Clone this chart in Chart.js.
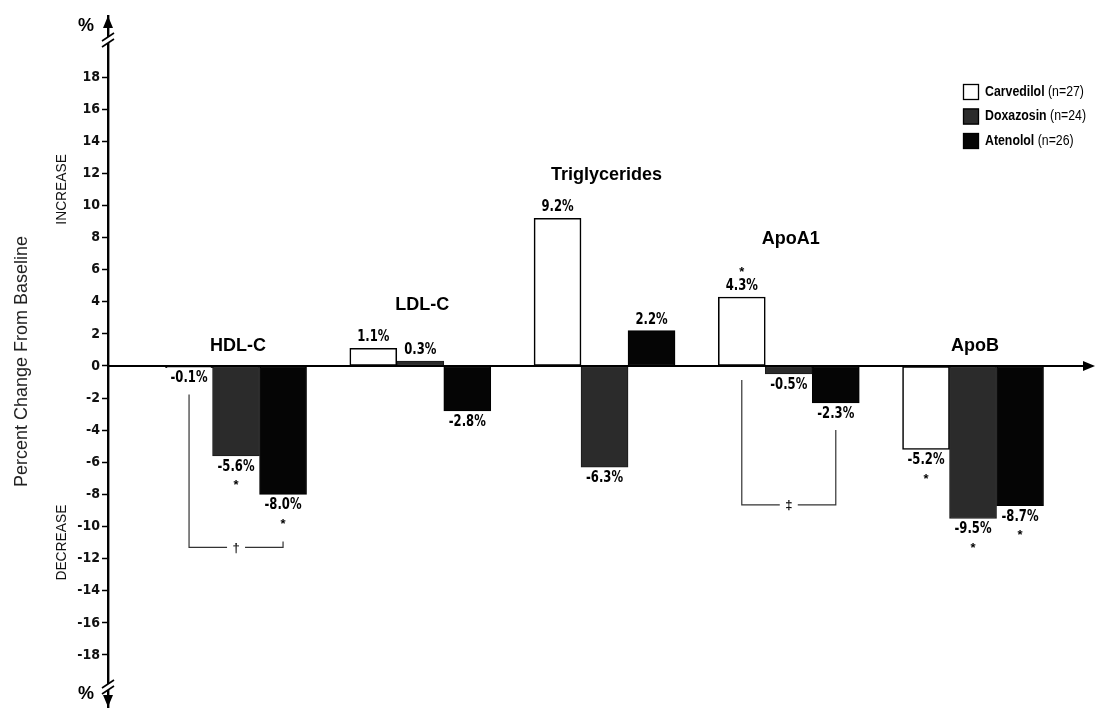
<!DOCTYPE html>
<html>
<head>
<meta charset="utf-8">
<script src="https://cdn.jsdelivr.net/npm/chart.js@4/dist/chart.umd.min.js"></script>
<style>
  html, body { margin: 0; padding: 0; background: #fff; }
  #wrap { position: relative; width: 1099px; height: 712px; }
</style>
</head>
<body>
<div id="wrap"><canvas id="c" width="1099" height="712"></canvas></div>
<script>
// Lipid parameters and percent change from baseline per treatment
const lipids = ['HDL-C', 'LDL-C', 'Triglycerides', 'ApoA1', 'ApoB'];
const carvedilol = [-0.1, 1.1, 9.2, 4.3, -5.2];
const doxazosin  = [-5.6, 0.3, -6.3, -0.5, -9.5];
const atenolol   = [-8.0, -2.8, 2.2, -2.3, -8.7];

// significance versus baseline (asterisk)
const carvedilolSig = [false, false, false, true, true];
const doxazosinSig  = [true, false, false, false, true];
const atenololSig   = [true, false, false, false, true];

const treatments  = ['Carvedilol', 'Doxazosin', 'Atenolol'];
const sampleSizes = [27, 24, 26];

const yTicks = [18, 16, 14, 12, 10, 8, 6, 4, 2, 0, -2, -4, -6, -8, -10, -12, -14, -16, -18];

// between-group comparisons: lipid index, first and last bar, bracket level (%)
const comparisons = [
  { lipid: 0, from: 0, to: 2, level: -11.3, symbol: '\u2020' },
  { lipid: 3, from: 0, to: 2, level: -8.65, symbol: '\u2021' }
];

const SANS = '"Liberation Sans", Arial, Helvetica, sans-serif';
const NARROW = '"Liberation Sans Narrow", "DejaVu Sans Condensed", "Liberation Sans", sans-serif';

const fills   = ['#ffffff', '#2b2b2b', '#050505'];
const borders = ['#000000', '#1a1a1a', '#000000'];
const series  = [carvedilol, doxazosin, atenolol];
const sigs    = [carvedilolSig, doxazosinSig, atenololSig];

const datasets = series.map((vals, k) => ({
  label: treatments[k],
  data: vals.map((v, i) => ({ x: i, y: v })),
  backgroundColor: fills[k],
  borderColor: borders[k],
  borderWidth: k === 0 ? 1.6 : 1,
  borderSkipped: false,
  barThickness: 47
}));

function arrow(ctx, x, y, dir) {
  ctx.beginPath();
  if (dir === 'right') { ctx.moveTo(x, y); ctx.lineTo(x - 12, y - 5); ctx.lineTo(x - 12, y + 5); }
  if (dir === 'up')    { ctx.moveTo(x, y); ctx.lineTo(x - 5, y + 12); ctx.lineTo(x + 5, y + 12); }
  if (dir === 'down')  { ctx.moveTo(x, y); ctx.lineTo(x - 5, y - 12); ctx.lineTo(x + 5, y - 12); }
  ctx.closePath();
  ctx.fill();
}

function axisBreak(ctx, x, y) {
  ctx.fillStyle = '#fff';
  ctx.fillRect(x - 3, y - 3, 6, 6);
  ctx.strokeStyle = '#000';
  ctx.lineWidth = 1.6;
  [-3, 3].forEach(d => {
    ctx.beginPath();
    ctx.moveTo(x - 6, y + d + 4);
    ctx.lineTo(x + 6, y + d - 4);
    ctx.stroke();
  });
}

// condensed text: horizontally squeezed around its anchor
function squeezed(ctx, text, x, y, sx) {
  ctx.save();
  ctx.translate(x, y);
  ctx.scale(sx, 1);
  ctx.fillText(text, 0, 0);
  ctx.restore();
}

const annotate = {
  id: 'annotate',
  afterDatasetsDraw(chart) {
    const { ctx, chartArea: a, scales: { y } } = chart;
    const y0 = y.getPixelForValue(0);
    const ax = a.left;
    ctx.save();

    // horizontal zero axis with arrowhead
    ctx.strokeStyle = '#000';
    ctx.fillStyle = '#000';
    ctx.lineWidth = 2;
    ctx.beginPath(); ctx.moveTo(ax, y0); ctx.lineTo(a.right - 6, y0); ctx.stroke();
    arrow(ctx, a.right, y0, 'right');

    // vertical axis arrows and breaks
    ctx.fillStyle = '#000';
    arrow(ctx, ax, a.top, 'up');
    arrow(ctx, ax, a.bottom, 'down');
    axisBreak(ctx, ax, a.top + 24);
    axisBreak(ctx, ax, a.bottom - 20);

    ctx.fillStyle = '#000';
    ctx.font = 'bold 18px ' + SANS;
    ctx.textAlign = 'center';
    ctx.textBaseline = 'middle';
    ctx.fillText('%', ax - 22, a.top + 10);
    ctx.fillText('%', ax - 22, a.bottom - 13);

    // INCREASE / DECREASE
    ctx.font = '15px ' + SANS;
    [['INCREASE', 11], ['DECREASE', -11]].forEach(([t, v]) => {
      ctx.save();
      ctx.translate(ax - 46, y.getPixelForValue(v));
      ctx.rotate(-Math.PI / 2);
      ctx.fillStyle = '#111';
      ctx.scale(0.92, 1);
      ctx.fillText(t, 0, 0);
      ctx.restore();
    });

    // value labels and asterisks
    const annBottom = {};
    const groupTop = lipids.map(() => ({ px: y0, hasPos: false, star: false }));
    series.forEach((vals, k) => {
      const meta = chart.getDatasetMeta(k);
      vals.forEach((v, i) => {
        const el = meta.data[i];
        const cx = el.x;
        const label = v.toFixed(1) + '%';
        ctx.fillStyle = '#000';
        ctx.textAlign = 'center';
        ctx.textBaseline = 'middle';
        let ly, sy;
        if (v >= 0) {
          ly = el.y - 11;
          sy = ly - 17;
          annBottom[k + '_' + i] = y0 + 14;
          const g = groupTop[i];
          if (el.y <= g.px) { g.px = el.y; }
          g.hasPos = true;
          g.star = g.star || sigs[k][i];
        } else {
          ly = el.y + 11;
          sy = ly + 16;
          annBottom[k + '_' + i] = (sigs[k][i] ? sy + 4 : ly) + 16;
        }
        ctx.font = 'bold 15px ' + NARROW;
        squeezed(ctx, label, cx, ly, 0.86);
        if (sigs[k][i]) {
          ctx.font = 'bold 13px ' + SANS;
          ctx.fillText('*', cx, sy + 3);
        }
      });
    });

    // lipid names above each group
    ctx.font = 'bold 18px ' + SANS;
    ctx.fillStyle = '#000';
    lipids.forEach((name, i) => {
      const g = groupTop[i];
      const cx = chart.getDatasetMeta(1).data[i].x;
      const gap = g.hasPos ? 43 + (g.star ? 15 : 0) : 20;
      ctx.fillText(name, cx + 2, g.px - gap);
    });

    // comparison brackets
    ctx.strokeStyle = '#333';
    ctx.lineWidth = 1.2;
    comparisons.forEach(c => {
      const x1 = chart.getDatasetMeta(c.from).data[c.lipid].x;
      const x2 = chart.getDatasetMeta(c.to).data[c.lipid].x;
      const ly = y.getPixelForValue(c.level);
      const t1 = annBottom[c.from + '_' + c.lipid];
      const t2 = annBottom[c.to + '_' + c.lipid];
      const mid = (x1 + x2) / 2;
      ctx.beginPath();
      ctx.moveTo(x1, t1); ctx.lineTo(x1, ly); ctx.lineTo(mid - 9, ly);
      ctx.moveTo(mid + 9, ly); ctx.lineTo(x2, ly); ctx.lineTo(x2, Math.min(t2, ly - 5));
      ctx.stroke();
      ctx.fillStyle = '#111';
      ctx.font = 'bold 13px ' + SANS;
      ctx.fillText(c.symbol, mid, ly + 1);
    });

    // legend
    const lx = 963, ly0 = 92, step = 24.5, sx = 0.88;
    treatments.forEach((t, k) => {
      const yy = ly0 + k * step;
      ctx.fillStyle = fills[k];
      ctx.fillRect(lx, yy - 8, 16, 16);
      ctx.strokeStyle = '#000';
      ctx.lineWidth = 1.3;
      ctx.strokeRect(lx + 0.5, yy - 7.5, 15, 15);
      ctx.fillStyle = '#000';
      ctx.textAlign = 'left';
      ctx.font = 'bold 14px ' + SANS;
      squeezed(ctx, t, lx + 22, yy, sx);
      const w = ctx.measureText(t).width * sx;
      ctx.font = '14px ' + SANS;
      squeezed(ctx, ' (n=' + sampleSizes[k] + ')', lx + 22 + w, yy, sx);
    });

    ctx.restore();
  }
};

new Chart(document.getElementById('c'), {
  type: 'bar',
  data: { datasets },
  options: {
    responsive: false,
    animation: false,
    devicePixelRatio: 1,
    layout: { padding: { top: 16, right: 4, bottom: 5, left: 0 } },
    plugins: { legend: { display: false }, tooltip: { enabled: false } },
    scales: {
      x: {
        type: 'linear',
        display: false,
        offset: false,
        bounds: 'data',
        grace: 0,
        min: -0.695,
        max: 4.662,
        grid: { offset: false },
        afterBuildTicks: s => { s.ticks = lipids.map((_, i) => ({ value: i })); }
      },
      y: {
        min: -21.24,
        max: 21.8,
        afterBuildTicks: s => { s.ticks = yTicks.map(v => ({ value: v })); },
        afterFit: s => { s.width = 108; s.paddingTop = 0; s.paddingBottom = 0; },
        border: { display: true, color: '#000', width: 2.4 },
        grid: { drawOnChartArea: false, drawTicks: true, tickLength: 6, tickWidth: 1.5, tickColor: '#000' },
        ticks: {
          color: '#111',
          padding: 2,
          font: { family: NARROW, size: 14, weight: 'bold' },
          callback: v => String(v)
        },
        title: {
          display: true,
          text: 'Percent Change From Baseline',
          color: '#222',
          font: { family: SANS, size: 18 },
          padding: { top: 11, bottom: 0 }
        }
      }
    }
  },
  plugins: [annotate]
});
</script>
</body>
</html>
